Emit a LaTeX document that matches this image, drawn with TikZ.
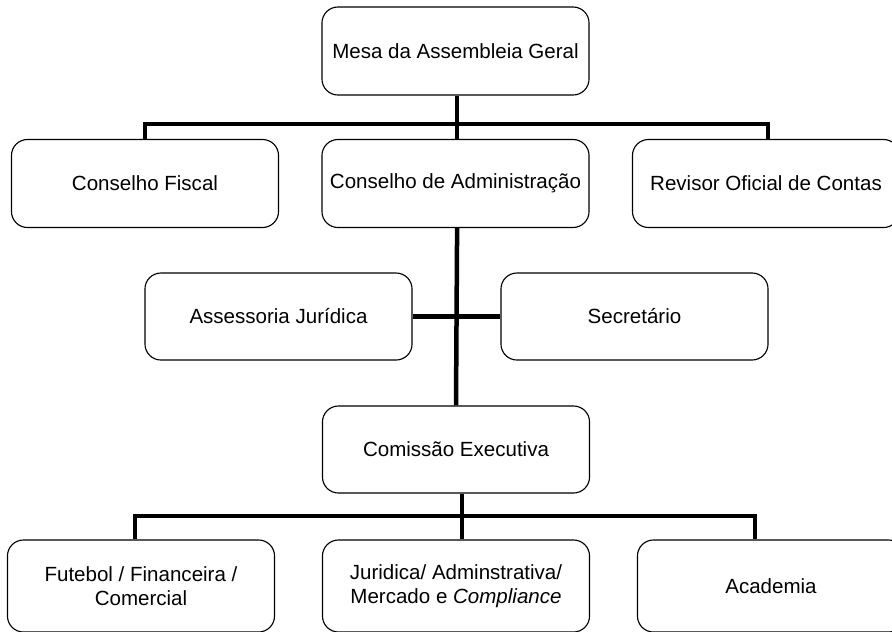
\documentclass[tikz,border=0pt]{standalone}
\usepackage{fontspec}
\setmainfont{Liberation Sans}
\usepackage{tikz}

\begin{document}
\begin{tikzpicture}[x=0.025cm, y=-0.025cm,
  unit/.style={draw, line width=0.8pt, rounded corners=0.4cm, minimum width=6.675cm,
    minimum height=2.2cm, inner sep=0pt, align=center, font=\fontsize{14.6}{17.5}\selectfont},
  bus/.style={line width=3.2pt}]
% Frame
\path[use as bounding box, clip] (0,0) rectangle (892,631);

% Top level
\node[unit] (mesa) at (455.5,51) {Mesa da Assembleia Geral};
\node[unit] (fiscal) at (145,183.5) {Conselho Fiscal};
\node[unit] (admin) at (455.5,183.5) {Conselho de Administração};
\node[unit] (revisor) at (766,183.5) {Revisor Oficial de Contas};

% Support
\node[unit, minimum height=2.175cm] (assessoria) at (278.5,316.5) {Assessoria Jurídica};
\node[unit, minimum height=2.175cm] (secretario) at (634.5,316.5) {Secretário};
\node[unit, minimum height=2.175cm] (comissao) at (456,449.5) {Comissão Executiva};

% Departments
\node[unit, minimum height=2.3cm] (futebol) at (141,586) {Futebol / Financeira /\\Comercial};
\node[unit, minimum height=2.3cm] (juridica) at (456,586) {Juridica/ Adminstrativa/\\Mercado e \textit{Compliance}};
\node[unit, minimum height=2.3cm] (academia) at (771,586) {Academia};

% Connectors
\coordinate (topbus) at (457,124);
\coordinate (lowbus) at (462,516);
\draw[bus] (fiscal.north) |- (topbus) -| ([xshift=0.05cm]revisor.north);
\draw[bus] ([xshift=0.04cm]mesa.south) -- ([xshift=0.04cm]admin.north);
\draw[bus] ([xshift=0.04cm]admin.south) -- (comissao.north);
\draw[bus] (assessoria.east) -- (secretario.west);
\draw[bus] (comissao.south -| lowbus) -- (juridica.north -| lowbus);
\draw[bus] ([xshift=-0.15cm]futebol.north) |- (lowbus) -| ([xshift=-0.4cm]academia.north);
\end{tikzpicture}
\end{document}
